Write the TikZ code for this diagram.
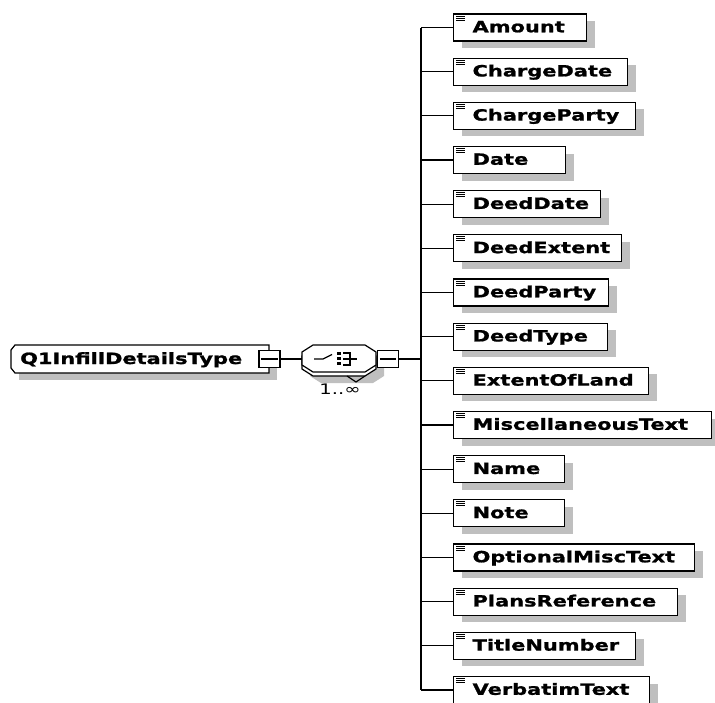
\documentclass[tikz,border=0pt]{standalone}
\usepackage{fontspec}
\newfontfamily\xsdfont[FakeStretch=1.35, BoldFeatures={FakeBold=1.2}]{DejaVu Sans}
\usepackage{tikz}
\usetikzlibrary{shadows}
\tikzset{
  elem/.style={draw, line width=1.2pt, fill=white, rectangle, anchor=west,
    inner xsep=0pt, inner ysep=0pt, minimum height=27pt, align=left,
    text height=11.5pt, text depth=2pt,
    font=\xsdfont\bfseries\fontsize{15.5pt}{18pt}\selectfont,
    drop shadow={shadow xshift=8pt, shadow yshift=-7pt, fill=black!25, opacity=1}},
  btn/.style={draw, line width=1.3pt, fill=white, rectangle, inner sep=0pt,
    minimum width=21pt, minimum height=17pt},
  conn/.style={line width=1.2pt},
  shadowfill/.style={fill=black!25}
}

\begin{document}
\begin{tikzpicture}[x=1pt, y=-1pt]
  \useasboundingbox (0,0) rectangle (715,702);
  % complex type box
  \fill[shadowfill] (19,352) rectangle (277,380);
  \draw[line width=1.2pt, fill=white] (15,345) -- (269,345) -- (269,373) -- (15,373) -- (11,368) -- (11,350) -- cycle;
  \node[anchor=base west, inner sep=0pt, font=\xsdfont\bfseries\fontsize{15.5pt}{18pt}\selectfont] (root) at (20,364) {Q1InfillDetailsType};
  \node[btn] (rootbtn) at (269.5,359) {};
  \draw[line width=1.2pt] ([xshift=3pt]rootbtn.west) -- ([xshift=-3pt]rootbtn.east);

  % choice compositor, 1..unbounded
  \fill[shadowfill] (321,356) -- (373,356) -- (384,363) -- (384,376) -- (373,383) -- (321,383) -- (310,376) -- (310,363) -- cycle;
  \draw[line width=1.2pt, fill=white] (313,349) -- (365,349) -- (376,356) -- (376,369) -- (365,376) -- (313,376) -- (302,369) -- (302,356) -- cycle;
  \draw[line width=1.2pt] (347,376) -- (356,382) -- (365,376);
  \draw[line width=1.2pt, fill=white] (313,345) -- (365,345) -- (376,352) -- (376,365) -- (365,372) -- (313,372) -- (302,365) -- (302,352) -- cycle;
  \node[inner sep=0pt, minimum width=74pt, minimum height=27pt] (seq) at (339,359) {};
  \draw[line width=1.2pt] (314,359) -- (323,359) -- (332,354.5);
  \fill (337,351.5) rectangle (341,354.5);
  \fill (337,356.5) rectangle (341,359.5);
  \fill (337,361.5) rectangle (341,364.5);
  \draw[line width=1.2pt] (343,353) -- (350,353) -- (350,365) -- (343,365);
  \draw[line width=1.2pt] (343,359) -- (357,359);
  \node[btn] (seqbtn) at (388,359) {};
  \draw[line width=1.2pt] ([xshift=3pt]seqbtn.west) -- ([xshift=-3pt]seqbtn.east);
  \node[inner sep=0pt, font=\xsdfont\fontsize{14.5pt}{16pt}\selectfont] (occurs) at (340,389) {1..∞};

  \coordinate (hub) at (421,359);
  \draw[conn] (rootbtn) -- (seq);
  \draw[conn] (seqbtn) -- (hub);

  % child elements
  \foreach \elname/\r [count=\i from 0] in {Amount/586, ChargeDate/627, ChargeParty/635, Date/565,
      DeedDate/600, DeedExtent/621, DeedParty/608, DeedType/607, ExtentOfLand/648,
      MiscellaneousText/711, Name/564, Note/564, OptionalMiscText/694,
      PlansReference/677, TitleNumber/635, VerbatimText/649}{
    \pgfmathsetmacro\w{\r-453}
    \pgfmathsetmacro\y{27.5+44.17*\i}
    \node[elem, text width=\w pt] (\elname) at (453,\y) {\hspace*{19pt}\elname};
    \draw[line width=0.8pt] ([shift={(3,2.5)}]\elname.north west) -- +(9,0);
    \draw[line width=0.8pt] ([shift={(3,4.5)}]\elname.north west) -- +(9,0);
    \draw[line width=0.8pt] ([shift={(3,6.5)}]\elname.north west) -- +(9,0);
    \draw[conn] (\elname.west) -- (\elname.west -| hub);
  }
  \draw[conn] (Amount.west -| hub) -- (VerbatimText.west -| hub);
\end{tikzpicture}
\end{document}
